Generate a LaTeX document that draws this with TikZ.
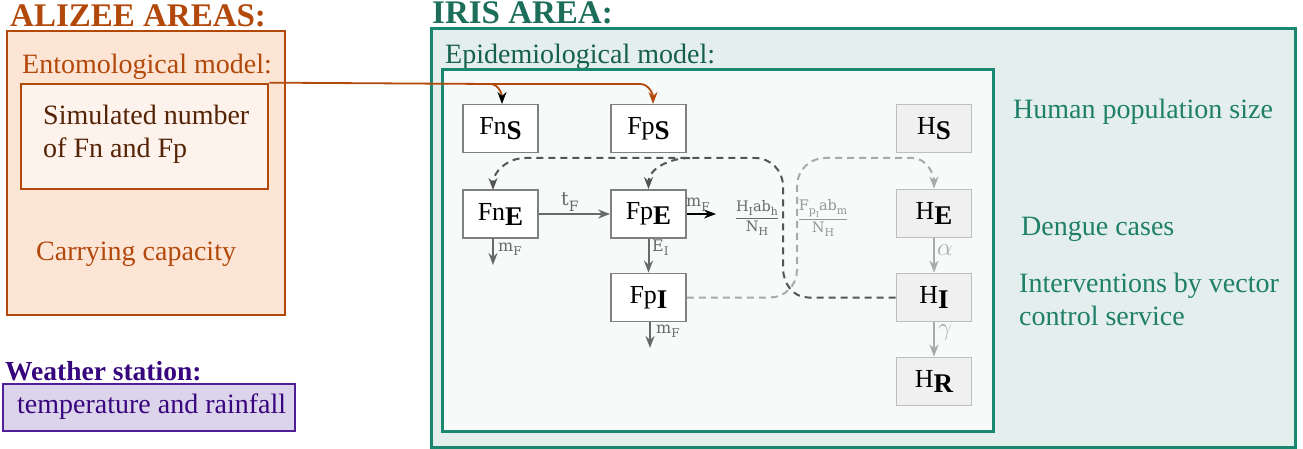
\documentclass[tikz,border=0pt]{standalone}
\usepackage{fontspec}
\setmainfont{Liberation Serif}
\newfontfamily\lblfont{DejaVu Serif}
\usetikzlibrary{arrows.meta}
\definecolor{alzo}{RGB}{178,72,10}
\definecolor{alzfill}{RGB}{253,229,214}
\definecolor{simfill}{RGB}{253,242,236}
\definecolor{simtext}{RGB}{85,35,5}
\definecolor{irisline}{RGB}{26,135,112}
\definecolor{iristext}{RGB}{28,110,90}
\definecolor{epitext}{RGB}{22,95,78}
\definecolor{irisfill}{RGB}{228,238,236}
\definecolor{epifill}{RGB}{246,250,249}
\definecolor{tealtext}{RGB}{30,128,104}
\definecolor{wpurple}{RGB}{55,5,125}
\definecolor{wline}{RGB}{80,30,150}
\definecolor{wfill}{RGB}{220,212,235}
\definecolor{fborder}{RGB}{128,128,128}
\definecolor{hborder}{RGB}{190,190,190}
\definecolor{hfill}{RGB}{240,240,240}
\definecolor{darrow}{RGB}{105,105,105}
\definecolor{dkdash}{RGB}{85,85,85}
\definecolor{ltdash}{RGB}{170,170,170}
\definecolor{frgray}{RGB}{150,150,150}
\newcommand\fsz[1]{\fontsize{#1}{#1}\selectfont}
\newcommand\boxtxt[2]{#1\raisebox{-5pt}{\fsz{27}\bfseries #2}}
\newcommand\lsub[1]{\raisebox{-0.28em}{\fontsize{0.75em}{0.75em}\selectfont #1}}
\tikzset{
  txt/.style={anchor=base west, inner sep=0pt, font=\fsz{28}},
  fbox/.style={draw=fborder, line width=1.8pt, fill=white, minimum width=75pt, minimum height=48pt, inner sep=0pt, font=\fsz{26}},
  hbox/.style={fbox, draw=hborder, fill=hfill},
  lbl/.style={anchor=base west, inner sep=0pt, text=darrow},
  tip/.style={-{Stealth[length=12pt,width=9pt]}},
  flow/.style={draw=darrow, line width=2pt, tip},
  hflow/.style={draw=ltdash, line width=2pt, tip},
  dkd/.style={draw=dkdash, line width=2pt, dash pattern=on 7pt off 5pt, tip},
  ltd/.style={draw=ltdash, line width=2pt, dash pattern=on 7pt off 5pt, tip},
  orgl/.style={draw=alzo, line width=1.8pt},
}
\begin{document}
\begin{tikzpicture}[x=1pt,y=-1pt]
\useasboundingbox (0,0) rectangle (1303,449);
% ALIZEE
\node[txt, font=\fsz{33}\bfseries, text=alzo] (alzt) at (10,27) {ALIZEE AREAS:};
\draw[draw=alzo, fill=alzfill, line width=2.5pt] (7,31) rectangle (285,315);
\node[txt, text=alzo] (ento) at (22,74) {Entomological model:};
\node[draw=alzo, fill=simfill, line width=2.7pt, minimum width=247pt, minimum height=105pt, inner sep=0pt] (sim) at (144.5,136.5) {};
\node[txt, text=simtext] (sim1) at (43,125) {Simulated number};
\node[txt, text=simtext] (sim2) at (43,158) {of Fn and Fp};
\node[txt, text=alzo] (carry) at (36,260) {Carrying capacity};
% Weather
\node[txt, font=\fsz{27.5}\bfseries, text=wpurple] (wst) at (5,380) {Weather station:};
\draw[draw=wline, fill=wfill, line width=2.7pt] (3,384) rectangle (295,431);
\node[txt, text=wpurple] (wtx) at (17,413) {temperature and rainfall};
% IRIS
\node[txt, font=\fsz{33}\bfseries, text=iristext] (irist) at (432,24) {IRIS AREA:};
\draw[draw=irisline, fill=irisfill, line width=3pt] (431,29) rectangle (1295,447);
\node[txt, text=epitext] (epit) at (445,64) {Epidemiological model:};
\draw[draw=irisline, fill=epifill, line width=3pt] (442,70) rectangle (993,431);
\node[txt, text=tealtext] (hps) at (1013,119) {Human population size};
\node[txt, text=tealtext] (dc) at (1021,235) {Dengue cases};
\node[txt, text=tealtext] (iv1) at (1019,292) {Interventions by vector};
\node[txt, text=tealtext] (iv2) at (1019,325) {control service};
% compartments
\node[fbox] (FnS) at (500.5,128.5) {\boxtxt{Fn}{S}};
\node[fbox] (FpS) at (648.5,128.5) {\boxtxt{Fp}{S}};
\node[fbox] (FnE) at (500.5,214) {\boxtxt{Fn}{E}};
\node[fbox] (FpE) at (648.5,214) {\boxtxt{Fp}{E}};
\node[fbox] (FpI) at (648.5,297.5) {\boxtxt{Fp}{I}};
\node[hbox] (HS) at (934,128.5) {\boxtxt{H}{S}};
\node[hbox] (HE) at (934,213.5) {\boxtxt{H}{E}};
\node[hbox] (HI) at (934,297.5) {\boxtxt{H}{I}};
\node[hbox] (HR) at (934,381.5) {\boxtxt{H}{R}};
% free ends
\coordinate (FnEout) at (493,238);
\coordinate (FnEend) at (493,265);
\coordinate (FpIend) at (650,348);
\coordinate (FpEend) at (716,214);
\coordinate (FnEin) at (493,190);
\coordinate (FnSin) at (502,104);
\coordinate (FpSin) at (653,104);
\coordinate (orgk) at (490,84);
\coordinate (dkbr) at (690,158);
% solid flows
\draw[flow] (FnE.east) -- (FpE.west);
\draw[flow] (FnEout) -- (FnEend);
\draw[flow] (FpE.south) -- (FpI.north);
\draw[flow] ([xshift=1.5pt]FpI.south) -- (FpIend);
\draw[line width=2pt, draw=black, tip] (FpE.east) -- (FpEend);
\draw[hflow] (HE.south) -- (HI.north);
\draw[hflow] (HI.south) -- (HR.north);
% labels
\node[lbl, font=\lblfont\fsz{19}] (tF) at (561,206) {t\lsub{F}};
\node[lbl, font=\lblfont\fsz{16}] (mF1) at (498,251) {m\lsub{F}};
\node[lbl, font=\lblfont\fsz{16}] (mF2) at (686,207) {m\lsub{F}};
\node[lbl, font=\lblfont\fsz{16}] (mF3) at (656,333) {m\lsub{F}};
\node[lbl, font=\lblfont\fsz{16}] (EI) at (652,251) {E\lsub{I}};
\node[anchor=center, inner sep=0pt, text=ltdash, font=\fsz{24}] (al) at (945,250) {$\alpha$};
\node[anchor=center, inner sep=0pt, text=ltdash, font=\fsz{24}] (ga) at (945,333) {$\gamma$};
\node[inner sep=0pt, text=darrow, font=\lblfont\fsz{14.5}] (fr1) at (757,218)
  {$\displaystyle\frac{\mbox{H\lsub{I}ab\lsub{h}}}{\mbox{N\lsub{H}}}$};
\node[inner sep=0pt, text=frgray, font=\lblfont\fsz{14.5}] (fr2) at (823,218)
  {$\displaystyle\frac{\mbox{F\lsub{p\lsub{I}}ab\lsub{m}}}{\mbox{N\lsub{H}}}$};
% dashed infection paths
\draw[ltd] (FpI.east) -- (770,297.5) to[out=0,in=-90] (797,270) -- (797,186) to[out=90,in=180] (825,158) -- (912,158) to[out=0,in=90] (HE.north);
\draw[dkd] (HI.west) -- (808,297.5) to[out=180,in=-90] (783,268) -- (783,186) to[out=90,in=0] (755,158) -- (525,158) to[out=180,in=90] (FnEin);
\draw[dkd] (dkbr) to[out=180,in=90] (FpE.north);
% orange input
\draw[orgl] (sim.north east) -- (orgk);
\draw[orgl, -{Stealth[length=12pt,width=9pt,color=black]}] (orgk) to[out=0,in=90] (FnSin);
\draw[orgl, tip] (orgk) -- (640,84) to[out=0,in=90] (FpSin);
\end{tikzpicture}
\end{document}
